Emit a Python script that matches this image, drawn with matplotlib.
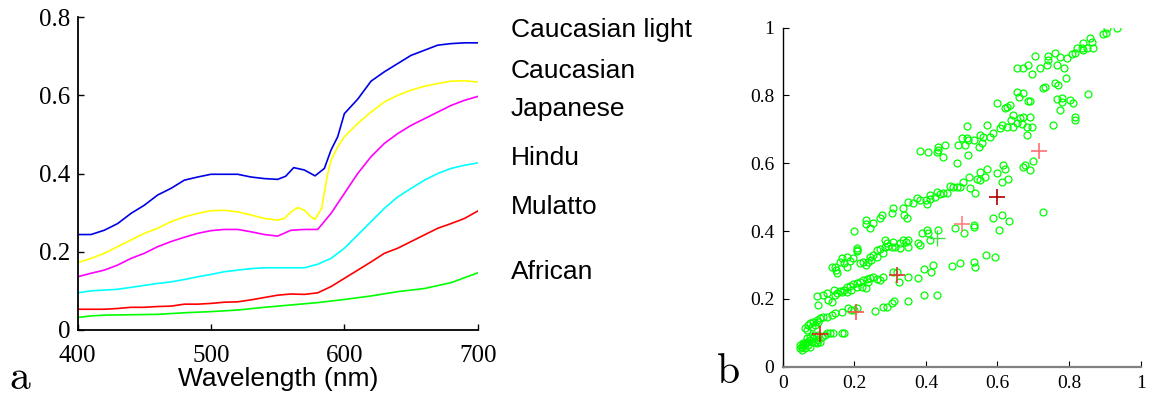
import matplotlib.pyplot as plt

plt.rcParams['font.family'] = ['Liberation Serif', 'DejaVu Serif']

# ---- panel a: reflectance spectra ----
wl = [400, 410, 420, 430, 440, 450, 460, 470, 480, 490, 500, 510, 520, 530, 540,
      550, 560, 570, 580, 590, 600, 610, 620, 630, 640, 650, 660, 670, 680, 690, 700]

blue_wl = [400, 410, 420, 430, 440, 450, 460, 470, 480, 490, 500, 510, 520, 530, 540,
           550, 556, 562, 570, 578, 585, 590, 595, 600, 610, 620, 630, 640, 650, 660,
           670, 680, 690, 700]
caucasian_light = [0.244, 0.244, 0.255, 0.272, 0.298, 0.319, 0.345, 0.362, 0.383, 0.391,
                   0.398, 0.398, 0.398, 0.391, 0.387, 0.385, 0.393, 0.415, 0.409, 0.394,
                   0.413, 0.46, 0.494, 0.553, 0.59, 0.636, 0.66, 0.681, 0.702, 0.715,
                   0.728, 0.732, 0.734, 0.734]

yellow_wl = [400, 410, 420, 430, 440, 450, 460, 470, 480, 490, 500, 510, 520, 530, 540,
             550, 555, 560, 565, 570, 575, 578, 583, 587, 590, 595, 600, 610, 620, 630,
             640, 650, 660, 670, 680, 690, 700]
caucasian = [0.172, 0.183, 0.196, 0.213, 0.23, 0.247, 0.26, 0.277, 0.289, 0.298, 0.305,
             0.306, 0.302, 0.294, 0.285, 0.281, 0.285, 0.302, 0.313, 0.306, 0.289, 0.283,
             0.311, 0.391, 0.434, 0.468, 0.494, 0.528, 0.557, 0.583, 0.6, 0.613, 0.623,
             0.63, 0.636, 0.637, 0.634]

japanese = [0.136, 0.145, 0.153, 0.166, 0.183, 0.196, 0.213, 0.226, 0.237, 0.247, 0.254,
            0.257, 0.257, 0.251, 0.244, 0.24, 0.255, 0.257, 0.257, 0.298, 0.349, 0.4,
            0.443, 0.477, 0.502, 0.523, 0.54, 0.557, 0.574, 0.587, 0.597]

hindu = [0.095, 0.1, 0.102, 0.104, 0.109, 0.114, 0.119, 0.123, 0.129, 0.136, 0.142, 0.149,
         0.153, 0.157, 0.159, 0.159, 0.159, 0.159, 0.168, 0.183, 0.209, 0.243, 0.277, 0.311,
         0.34, 0.362, 0.383, 0.4, 0.413, 0.421, 0.427]

mulatto = [0.053, 0.053, 0.053, 0.055, 0.058, 0.058, 0.06, 0.061, 0.066, 0.066, 0.068,
           0.071, 0.072, 0.077, 0.083, 0.089, 0.092, 0.091, 0.095, 0.111, 0.132, 0.153,
           0.174, 0.196, 0.209, 0.226, 0.243, 0.26, 0.272, 0.285, 0.304]

african_wl = [400, 410, 420, 460, 480, 500, 520, 540, 560, 580, 600, 620, 640, 660, 680, 700]
african = [0.032, 0.036, 0.038, 0.04, 0.044, 0.047, 0.051, 0.058, 0.064, 0.07, 0.078,
           0.087, 0.098, 0.106, 0.121, 0.146]

group_names = ["Caucasian light", "Caucasian", "Japanese", "Hindu", "Mulatto", "African"]

# ---- panel b: scatter ----
scatter_x = [
    0.933, 0.907, 0.896, 0.903, 0.857, 0.84, 0.835, 0.849, 0.84, 0.821, 0.817, 0.807,
    0.793, 0.868, 0.863, 0.775, 0.761, 0.742, 0.742, 0.737, 0.705, 0.766, 0.786, 0.686,
    0.719, 0.672, 0.654, 0.696, 0.761, 0.77, 0.733, 0.728, 0.79, 0.654, 0.672, 0.661,
    0.686, 0.691, 0.766, 0.779, 0.803, 0.812, 0.852, 0.779, 0.775, 0.817, 0.817, 0.756,
    0.626, 0.622, 0.598, 0.635, 0.644, 0.639, 0.654, 0.663, 0.672, 0.691, 0.668, 0.696,
    0.682, 0.644, 0.626, 0.607, 0.612, 0.588, 0.579, 0.57, 0.56, 0.551, 0.547, 0.556,
    0.533, 0.519, 0.514, 0.509, 0.5, 0.491, 0.514, 0.517, 0.486, 0.453, 0.435, 0.43,
    0.435, 0.449, 0.407, 0.384, 0.682,
    0.7, 0.691, 0.677, 0.672, 0.614, 0.621, 0.628, 0.612, 0.598, 0.57, 0.565, 0.551,
    0.551, 0.542, 0.537, 0.521, 0.523, 0.504, 0.495, 0.486, 0.477, 0.466, 0.458, 0.449,
    0.439, 0.43, 0.425, 0.412, 0.412, 0.4, 0.402, 0.384, 0.374, 0.365, 0.351, 0.337,
    0.348, 0.339, 0.307, 0.304, 0.277, 0.272, 0.253, 0.232, 0.234, 0.244, 0.209, 0.2,
    0.207, 0.179, 0.188, 0.197, 0.17, 0.179, 0.146, 0.137, 0.149, 0.151, 0.16, 0.165,
    0.216, 0.224, 0.239, 0.244, 0.253, 0.263, 0.272, 0.279, 0.286, 0.295, 0.309, 0.313,
    0.328, 0.337, 0.345, 0.351, 0.351, 0.328, 0.304, 0.29, 0.286, 0.248, 0.263, 0.232,
    0.207,
    0.388, 0.384, 0.402, 0.407, 0.435, 0.412, 0.481, 0.506, 0.533, 0.533, 0.588, 0.612,
    0.633, 0.603, 0.726, 0.379,
    0.048, 0.053, 0.058, 0.062, 0.067, 0.076, 0.086, 0.048, 0.058, 0.072, 0.081, 0.09,
    0.1, 0.109, 0.118, 0.123, 0.132, 0.14, 0.104, 0.095, 0.053, 0.062, 0.076, 0.067,
    0.076, 0.165, 0.171, 0.088, 0.1,
    0.062, 0.072, 0.076, 0.086, 0.095, 0.104, 0.114, 0.123, 0.137, 0.146, 0.067, 0.081,
    0.09, 0.099, 0.165, 0.183, 0.192, 0.207, 0.2,
    0.258, 0.279, 0.29, 0.304, 0.312, 0.351, 0.396, 0.43,
    0.318, 0.351, 0.379, 0.395, 0.413, 0.42, 0.472, 0.495, 0.533, 0.537, 0.568, 0.593,
    0.095, 0.099, 0.114, 0.123, 0.128, 0.137, 0.146, 0.142, 0.151, 0.16, 0.17, 0.179,
    0.188, 0.197, 0.207, 0.216, 0.225, 0.235, 0.244, 0.253, 0.263, 0.272, 0.279, 0.309,
    0.326, 0.192, 0.221, 0.239, 0.233, 0.207, 0.179, 0.165,
]
scatter_y = [
    1.0, 1.0, 0.98, 0.985, 0.969, 0.956, 0.939, 0.939, 0.934, 0.939, 0.924, 0.921,
    0.91, 0.941, 0.959, 0.914, 0.924, 0.916, 0.905, 0.89, 0.916, 0.89, 0.88, 0.89,
    0.88, 0.88, 0.88, 0.863, 0.836, 0.831, 0.826, 0.821, 0.851, 0.811, 0.808, 0.795,
    0.785, 0.785, 0.789, 0.792, 0.787, 0.777, 0.803, 0.782, 0.757, 0.736, 0.728, 0.713,
    0.767, 0.762, 0.777, 0.772, 0.742, 0.728, 0.718, 0.733, 0.736, 0.736, 0.716, 0.706,
    0.683, 0.708, 0.708, 0.703, 0.713, 0.688, 0.678, 0.713, 0.678, 0.683, 0.649, 0.659,
    0.669, 0.669, 0.674, 0.654, 0.674, 0.654, 0.71, 0.624, 0.602, 0.654, 0.649, 0.634,
    0.639, 0.619, 0.634, 0.637, 0.708,
    0.608, 0.58, 0.595, 0.59, 0.595, 0.582, 0.553, 0.546, 0.57, 0.582, 0.559, 0.575,
    0.551, 0.553, 0.511, 0.559, 0.526, 0.546, 0.531, 0.531, 0.529, 0.533, 0.511, 0.511,
    0.509, 0.516, 0.501, 0.506, 0.494, 0.492, 0.48, 0.492, 0.497, 0.482, 0.487, 0.467,
    0.438, 0.447, 0.467, 0.452, 0.447, 0.438, 0.423, 0.433, 0.421, 0.408, 0.344, 0.401,
    0.342, 0.324, 0.313, 0.32, 0.305, 0.295, 0.295, 0.295, 0.285, 0.275, 0.31, 0.32,
    0.305, 0.31, 0.31, 0.324, 0.329, 0.344, 0.346, 0.334, 0.354, 0.356, 0.369, 0.354,
    0.364, 0.374, 0.369, 0.374, 0.354, 0.349, 0.354, 0.364, 0.374, 0.315, 0.323, 0.3,
    0.349,
    0.393, 0.359, 0.403, 0.393, 0.403, 0.374, 0.408, 0.393, 0.413, 0.418, 0.438, 0.447,
    0.431, 0.403, 0.457, 0.364,
    0.054, 0.059, 0.064, 0.069, 0.074, 0.079, 0.084, 0.064, 0.071, 0.064, 0.074, 0.074,
    0.079, 0.088, 0.093, 0.098, 0.098, 0.1, 0.074, 0.069, 0.049, 0.054, 0.059, 0.084,
    0.088, 0.1, 0.098, 0.093, 0.093,
    0.113, 0.123, 0.128, 0.133, 0.138, 0.143, 0.147, 0.147, 0.152, 0.157, 0.108, 0.118,
    0.123, 0.133, 0.162, 0.172, 0.167, 0.172, 0.167,
    0.165, 0.177, 0.177, 0.189, 0.194, 0.194, 0.211, 0.211,
    0.28, 0.265, 0.261, 0.287, 0.28, 0.3, 0.297, 0.305, 0.31, 0.295, 0.329, 0.324,
    0.208, 0.182, 0.211, 0.216, 0.197, 0.192, 0.211, 0.226, 0.216, 0.224, 0.226, 0.236,
    0.238, 0.244, 0.248, 0.251, 0.256, 0.258, 0.261, 0.264, 0.258, 0.256, 0.265, 0.28,
    0.251, 0.226, 0.236, 0.251, 0.231, 0.236, 0.221, 0.221,
]

cross_x = [0.105, 0.205, 0.32, 0.5, 0.6, 0.715]
cross_y = [0.095, 0.16, 0.27, 0.42, 0.5, 0.635]
green_cross_x = [0.43]
green_cross_y = [0.38]

fig = plt.figure(figsize=(11.52, 4.05), dpi=100)

# panel a
ax1 = fig.add_axes([0.0674, 0.1852, 0.3473, 0.7728])
ax1.plot(blue_wl, caucasian_light, color='#0000e6', lw=1.2)
ax1.plot(yellow_wl, caucasian, color='#ffff00', lw=1.2)
ax1.plot(wl, japanese, color='#ff00ff', lw=1.2)
ax1.plot(wl, hindu, color='#00ffff', lw=1.2)
ax1.plot(wl, mulatto, color='#ff0000', lw=1.2)
ax1.plot(african_wl, african, color='#00ff00', lw=1.2)
ax1.set_xlim(400, 700)
ax1.set_ylim(0, 0.8)
ax1.set_xticks([400, 500, 600, 700])
ax1.set_yticks([0, 0.2, 0.4, 0.6, 0.8])
ax1.set_yticklabels(["0", "0.2", "0.4", "0.6", "0.8"])
for s in ['top', 'right']:
    ax1.spines[s].set_visible(False)
for s in ['left', 'bottom']:
    ax1.spines[s].set_linewidth(1.3)
ax1.tick_params(direction='in', length=4, width=1, labelsize=18)
ax1.tick_params(axis='x', pad=11)
ax1.tick_params(axis='y', pad=5)
ax1.set_xlabel("Wavelength (nm)", fontsize=19, family='Liberation Sans', labelpad=0)

label_y = [0.926, 0.825, 0.731, 0.610, 0.489, 0.328]
for name, yy in zip(group_names, label_y):
    fig.text(0.4436, yy, name, fontsize=19, family='Liberation Sans', va='center')

fig.text(0.008, 0.065, "a", fontsize=30, family='cmr10', va='center')

# panel b
ax2 = fig.add_axes([0.6794, 0.0946, 0.3108, 0.8370])
ax2.plot(scatter_x, scatter_y, 'o', mfc='none', mec='#00ff00', ms=5, mew=0.9)
colors = ['#e02020', '#ff5050', '#e03030', '#ff8080', '#b00000', '#ff7070']
for cx, cy, c in zip(cross_x, cross_y, colors):
    ax2.plot(cx, cy, '+', color=c, ms=11, mew=1.2)
ax2.plot(green_cross_x, green_cross_y, '+', color='#40e040', ms=11, mew=1.0)
ax2.set_xlim(0, 1)
ax2.set_ylim(0, 1)
ax2.set_xticks([0, 0.2, 0.4, 0.6, 0.8, 1])
ax2.set_xticklabels(["0", "0.2", "0.4", "0.6", "0.8", "1"])
ax2.set_yticks([0, 0.2, 0.4, 0.6, 0.8, 1])
ax2.set_yticklabels(["0", "0.2", "0.4", "0.6", "0.8", "1"])
for s in ['top', 'right']:
    ax2.spines[s].set_visible(False)
ax2.spines['left'].set_linewidth(1.0)
ax2.spines['bottom'].set_linewidth(1.6)
ax2.spines['bottom'].set_color('#808080')
ax2.tick_params(direction='in', length=4, width=0.8, pad=6, labelsize=14)

fig.text(0.622, 0.08, "b", fontsize=30, family='cmr10', va='center')

fig.savefig("out.png", dpi=100)
